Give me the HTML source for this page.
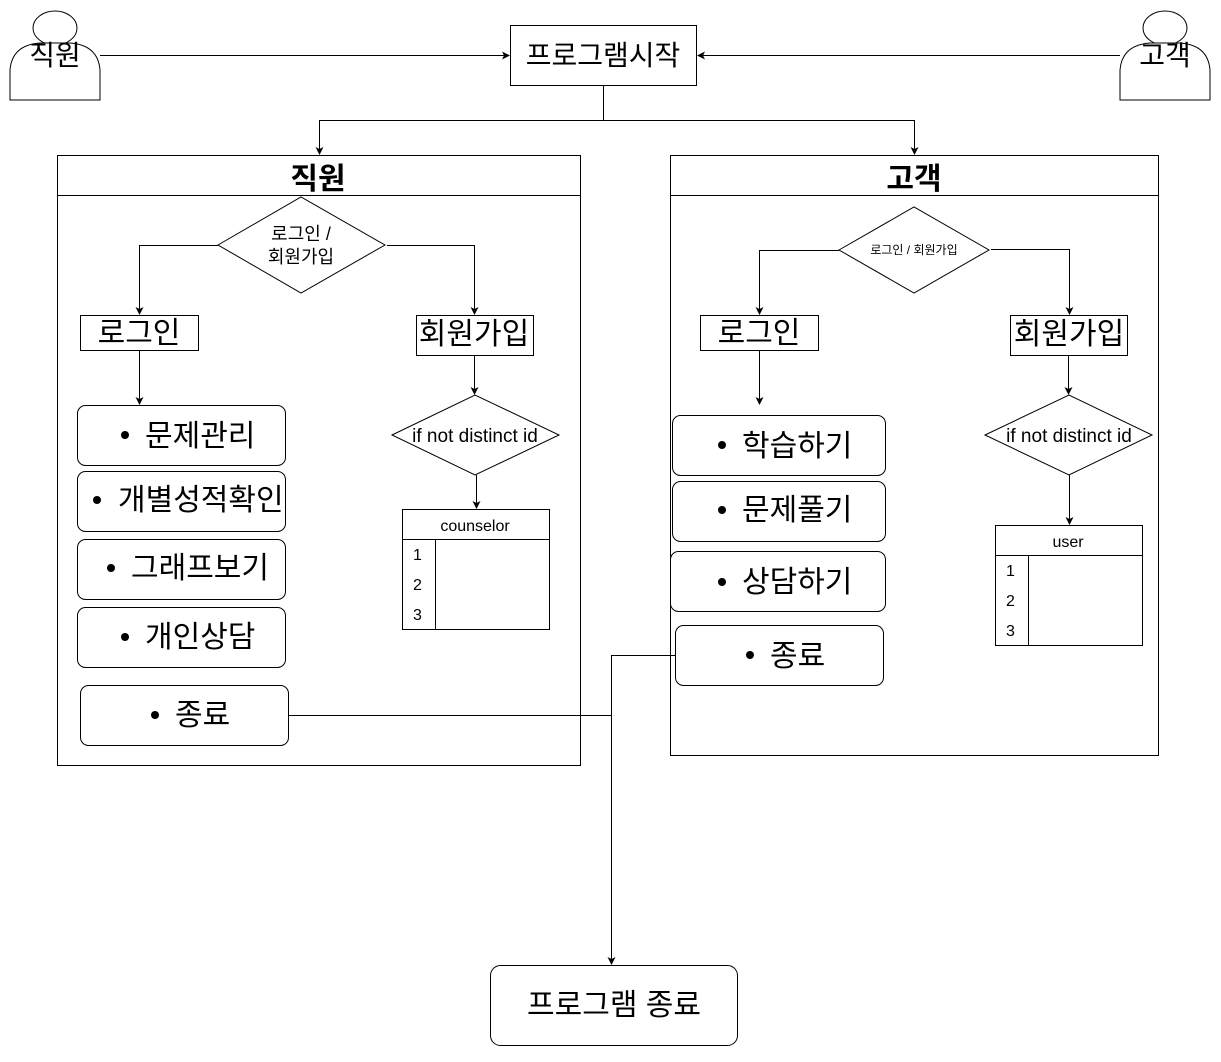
<!DOCTYPE html>
<html><head><meta charset="utf-8"><style>
html,body{margin:0;padding:0;background:#fff;}
svg text{font-family:"Liberation Sans","Noto Sans CJK KR",sans-serif;fill:#000;}
</style></head><body>
<svg width="1221" height="1057" viewBox="0 0 1221 1057" xmlns="http://www.w3.org/2000/svg">
<defs><marker id="a" markerWidth="8" markerHeight="8" refX="7" refY="4" orient="auto" markerUnits="userSpaceOnUse"><path d="M0,0 L8,4 L0,8 L2,4 Z" fill="#000"/></marker></defs>
<g fill="none" stroke="#000" stroke-width="1">
<ellipse cx="55" cy="28" rx="22" ry="17" fill="#fff"/>
<path d="M10,100 L10,70 Q12,45 40,43 L70,43 Q98,45 100,70 L100,100 Z" fill="#fff"/>
<ellipse cx="1165" cy="28" rx="22" ry="17" fill="#fff"/>
<path d="M1120,100 L1120,70 Q1122,45 1150,43 L1180,43 Q1208,45 1210,70 L1210,100 Z" fill="#fff"/>
<rect x="510.5" y="25.5" width="186" height="60"/>
<path d="M100,55.5 H509" marker-end="url(#a)"/>
<path d="M1120,55.5 H698" marker-end="url(#a)"/>
<path d="M603.5,85 V120.5 H319.5 V154" marker-end="url(#a)"/>
<path d="M603.5,120.5 H914.5 V154" marker-end="url(#a)"/>
<rect x="57.5" y="155.5" width="523" height="610"/>
<path d="M57.5,195.5 H580.5"/>
<rect x="670.5" y="155.5" width="488" height="600"/>
<path d="M670.5,195.5 H1158.5"/>
<polygon points="218,245 301,197 385,245 301,293"/>
<path d="M218,245.5 H139.5 V314" marker-end="url(#a)"/>
<path d="M387,245.5 H474.5 V314" marker-end="url(#a)"/>
<rect x="80.5" y="315.5" width="118" height="35"/>
<rect x="416.5" y="315.5" width="117" height="40"/>
<path d="M139.5,350 V404" marker-end="url(#a)"/>
<rect x="77.5" y="405.5" width="208" height="60" rx="8"/>
<rect x="77.5" y="471.5" width="208" height="60" rx="8"/>
<rect x="77.5" y="539.5" width="208" height="60" rx="8"/>
<rect x="77.5" y="607.5" width="208" height="60" rx="8"/>
<rect x="80.5" y="685.5" width="208" height="60" rx="8"/>
<path d="M474.5,355 V394" marker-end="url(#a)"/>
<polygon points="392,435 475,395 559,435 475,475"/>
<path d="M476.5,475 V508" marker-end="url(#a)"/>
<rect x="402.5" y="509.5" width="147" height="120"/>
<path d="M402.5,539.5 H549.5 M435.5,539.5 V629.5"/>
<polygon points="839,250 914,207 989,250 914,293"/>
<path d="M839,250.5 H759.5 V314" marker-end="url(#a)"/>
<path d="M991,249.5 H1069.5 V314" marker-end="url(#a)"/>
<rect x="700.5" y="315.5" width="118" height="35"/>
<rect x="1010.5" y="315.5" width="117" height="40"/>
<path d="M759.5,350 V404" marker-end="url(#a)"/>
<rect x="672.5" y="415.5" width="213" height="60" rx="8"/>
<rect x="672.5" y="481.5" width="213" height="60" rx="8"/>
<rect x="670.5" y="551.5" width="215" height="60" rx="8"/>
<rect x="675.5" y="625.5" width="208" height="60" rx="8"/>
<path d="M1068.5,355 V394" marker-end="url(#a)"/>
<polygon points="985,435 1069,395 1152,435 1069,475"/>
<path d="M1069.5,475 V524" marker-end="url(#a)"/>
<rect x="995.5" y="525.5" width="147" height="120"/>
<path d="M995.5,555.5 H1142.5 M1028.5,555.5 V645.5"/>
<path d="M288,715.5 H611.5"/>
<path d="M675,655.5 H611.5 V964" marker-end="url(#a)"/>
<rect x="490.5" y="965.5" width="247" height="80" rx="10"/>
</g>
<g fill="#000">
<circle cx="125" cy="435" r="4"/><circle cx="97" cy="500" r="4"/><circle cx="111" cy="568" r="4"/>
<circle cx="125" cy="637" r="4"/><circle cx="155" cy="715" r="4"/>
<circle cx="722" cy="445" r="4"/><circle cx="722" cy="510" r="4"/><circle cx="722" cy="582" r="4"/>
<circle cx="750" cy="655" r="4"/>
</g>
<g font-size="28" text-anchor="middle">
<text x="55" y="65">직원</text>
<text x="1165" y="65">고객</text>
<text x="603" y="65">프로그램시작</text>
<text x="318" y="189" font-weight="bold" font-size="30">직원</text>
<text x="914" y="189" font-weight="bold" font-size="30">고객</text>
<text x="301" y="240" font-size="18">로그인 /</text>
<text x="301" y="263" font-size="18">회원가입</text>
<text x="914" y="254" font-size="12">로그인 / 회원가입</text>
<text x="139" y="343" font-size="30">로그인</text>
<text x="474" y="344" font-size="30">회원가입</text>
<text x="759" y="343" font-size="30">로그인</text>
<text x="1069" y="344" font-size="30">회원가입</text>
<text x="475" y="442" font-size="19">if not distinct id</text>
<text x="1069" y="442" font-size="19">if not distinct id</text>
<text x="475" y="531" font-size="16">counselor</text>
<text x="1068" y="547" font-size="16">user</text>
<text x="614" y="1015" font-size="30">프로그램 종료</text>
</g>
<g font-size="16">
<text x="413" y="560">1</text><text x="413" y="590">2</text><text x="413" y="620">3</text>
<text x="1006" y="576">1</text><text x="1006" y="606">2</text><text x="1006" y="636">3</text>
</g>
<g font-size="30">
<text x="145" y="446">문제관리</text>
<text x="118" y="510">개별성적확인</text>
<text x="131" y="578">그래프보기</text>
<text x="145" y="647">개인상담</text>
<text x="175" y="725">종료</text>
<text x="742" y="456">학습하기</text>
<text x="742" y="520">문제풀기</text>
<text x="742" y="592">상담하기</text>
<text x="770" y="666">종료</text>
</g>
</svg>
</body></html>
